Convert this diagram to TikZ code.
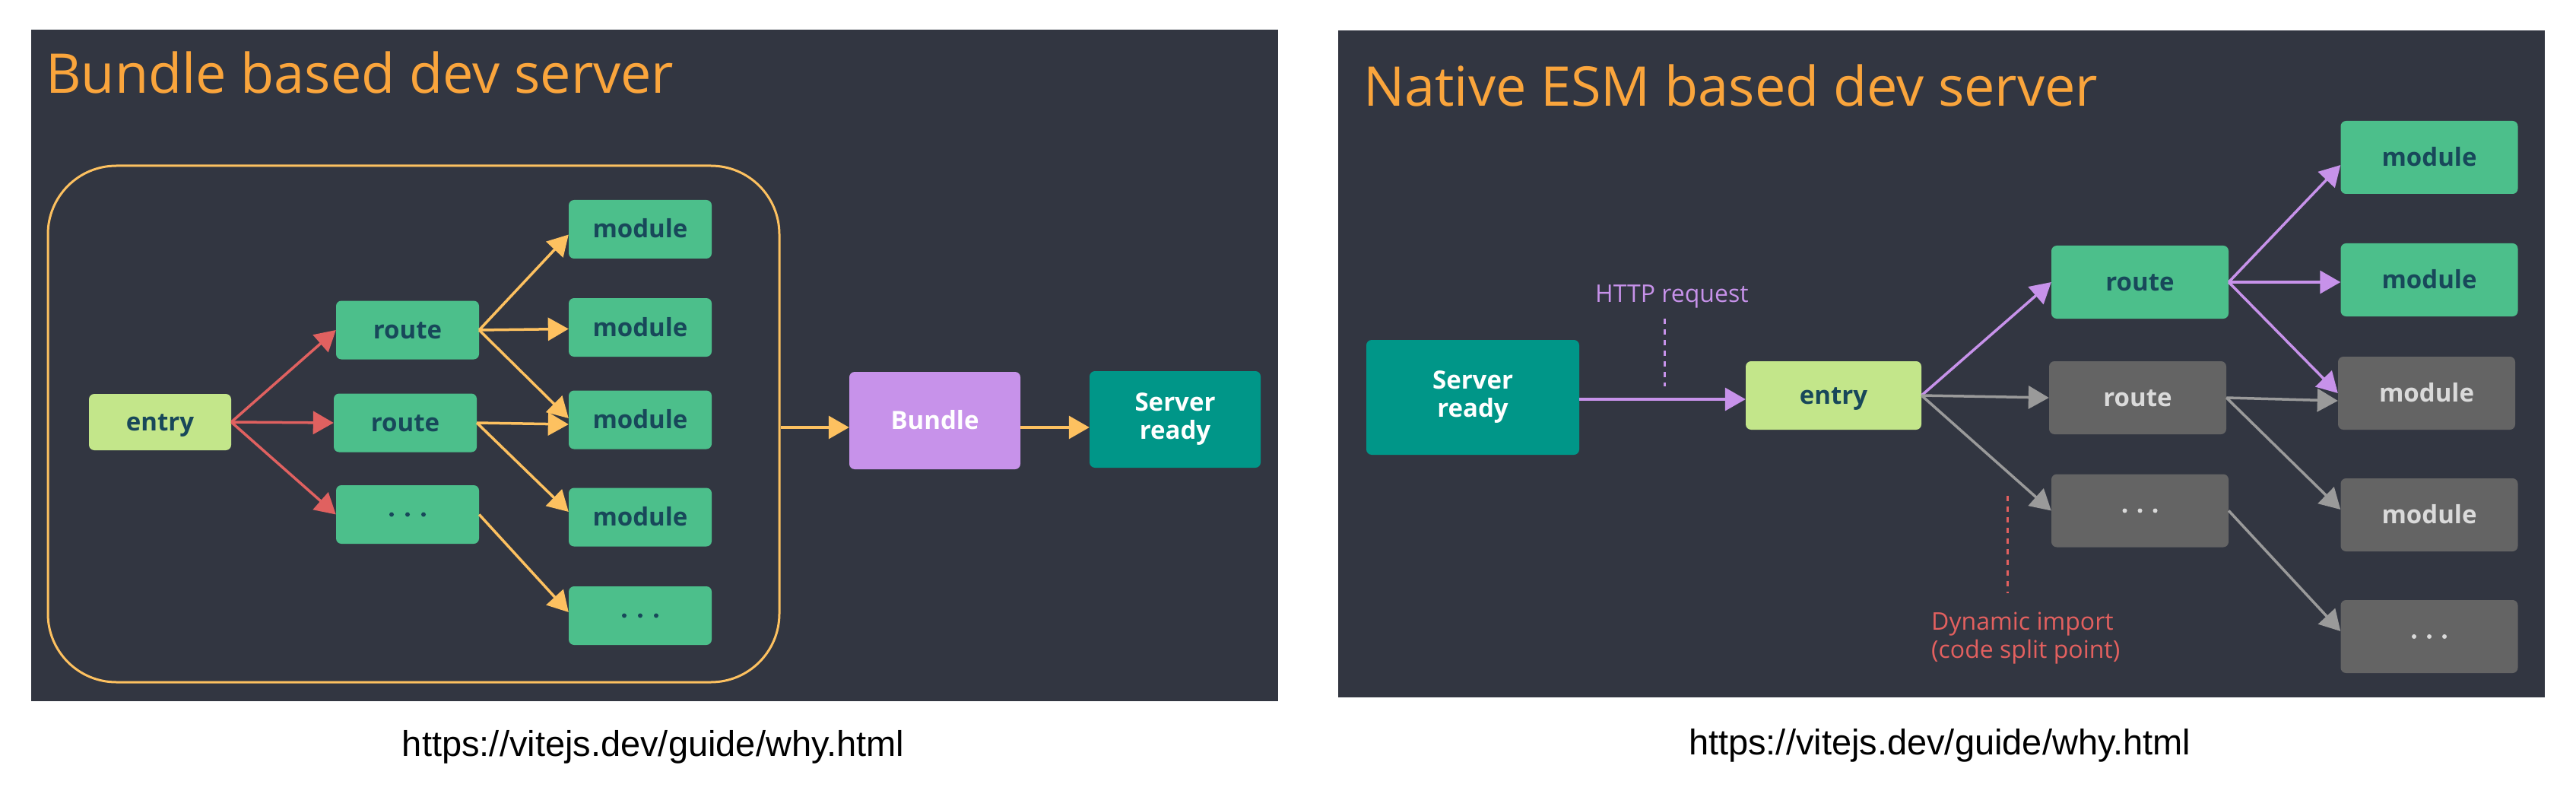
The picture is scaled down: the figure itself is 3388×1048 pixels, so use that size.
\documentclass[tikz,border=0pt]{standalone}
\usepackage{fontspec}
\setmainfont{Open Sans}
\newfontfamily\urlfont{Liberation Sans}
\usetikzlibrary{arrows.meta}
\definecolor{panelbg}{HTML}{323641}
\definecolor{titlec}{HTML}{FAA53C}
\definecolor{yel}{HTML}{FDC160}
\definecolor{redc}{HTML}{E06160}
\definecolor{purp}{HTML}{C792EA}
\definecolor{greyl}{HTML}{9A9A9A}
\definecolor{greenb}{HTML}{4CBF8B}
\definecolor{entryb}{HTML}{C3E68A}
\definecolor{darkt}{HTML}{18485A}
\definecolor{tealb}{HTML}{009688}
\definecolor{greyb}{HTML}{646464}
\definecolor{greyt}{HTML}{DADADA}
\definecolor{redt}{HTML}{E3605F}
\begin{document}
\begin{tikzpicture}[x=1pt,y=-1pt,
  box/.style={rounded corners=7pt, inner sep=0pt, font=\fontsize{33}{37}\selectfont\bfseries, text=darkt},
  lbl/.style={text height=23pt, text depth=0pt},
  lgbox/.style={box, fill=greenb, minimum width=188pt, minimum height=77pt},
  rgbox/.style={box, fill=greenb, minimum width=233pt, minimum height=96pt},
  gbox/.style={box, fill=greyb, text=greyt, minimum width=233pt, minimum height=96pt},
  arr/.style={line width=3.5pt, -{Triangle[length=27pt,width=30pt]}},
  title/.style={anchor=base west, inner sep=0pt, text=titlec, font=\fontsize{72}{86}\selectfont},
  urltext/.style={anchor=base, inner sep=0pt, text=black, font=\urlfont\fontsize{47}{56}\selectfont},
  note/.style={anchor=base west, inner sep=0pt, font=\fontsize{32}{37}\selectfont},
  dashmark/.style={line width=3pt, dash pattern=on 7pt off 7pt}
]
\useasboundingbox (0,0) rectangle (3388,1048);
\fill[white] (0,0) rectangle (3388,1048);
\fill[panelbg] (41,39) rectangle (1681,922);
\fill[panelbg] (1760,40) rectangle (3347,917);

% ---------------- left panel ----------------
\node[title] (tL) at (60,123) {Bundle based dev server};
\node[draw=yel, line width=3pt, rounded corners=90pt, minimum width=962pt, minimum height=679pt, inner sep=0pt] (cont) at (544,557.5) {};

\node[box, fill=entryb, minimum width=187pt, minimum height=74pt, lbl] (eL) at (210.5,555) {entry};
\node[lgbox, lbl] (r1L) at (536,434) {route};
\node[lgbox, lbl] (r2L) at (533,556) {route};
\node[lgbox] (dL) at (536,676.5) {};
\node[lgbox, lbl] (m1L) at (842,301.5) {module};
\node[lgbox, lbl] (m2L) at (842,430.5) {module};
\node[lgbox, lbl] (m3L) at (842,552) {module};
\node[lgbox, lbl] (m4L) at (842,680) {module};
\node[lgbox] (m5L) at (842,809.5) {};
\foreach \dx in {-21,0,21} {
  \fill[darkt] ([xshift=\dx pt]dL.center) circle (3pt);
  \fill[darkt] ([xshift=\dx pt]m5L.center) circle (3pt);
}
\node[box, fill=purp, text=white, minimum width=225pt, minimum height=128pt, lbl] (bun) at (1229.5,553) {Bundle};
\node[box, fill=tealb, text=white, minimum width=225pt, minimum height=127pt, align=center] (sL) at (1545.5,551.5) {Server\\ready};

\draw[arr, redc] (eL.east) -- (r1L.west);
\draw[arr, redc] (eL.east) -- (r2L.west);
\draw[arr, redc] (eL.east) -- (dL.west);
\draw[arr, yel] (r1L.east) -- ([yshift=-7pt]m1L.west);
\draw[arr, yel] (r1L.east) -- ([yshift=-2pt]m2L.west);
\draw[arr, yel] (r1L.east) -- ([yshift=2pt]m3L.west);
\draw[arr, yel] (r2L.east) -- ([yshift=-6pt]m3L.west);
\draw[arr, yel] (r2L.east) -- ([yshift=7pt]m4L.west);
\draw[arr, yel] (dL.east) -- ([yshift=4.5pt]m5L.west);
\coordinate (cout) at ([yshift=-4.5pt]cont.east);
\draw[arr, yel] (cout) -- (cout -| bun.west);
\draw[arr, yel] (cout -| bun.east) -- (cout -| sL.west);

\node[urltext] (uL) at (859,994) {https://vitejs.dev/guide/why.html};

% ---------------- right panel ----------------
\node[title] (tR) at (1793,140) {Native ESM based dev server};
\node[box, fill=tealb, text=white, minimum width=280pt, minimum height=151pt, align=center] (sR) at (1937,522.5) {Server\\ready};
\node[box, fill=entryb, minimum width=231pt, minimum height=90pt, lbl] (eR) at (2411.5,520) {entry};
\node[rgbox, lbl] (rgR) at (2814.5,371) {route};
\node[gbox, lbl] (ryR) at (2811.5,523) {route};
\node[gbox] (dR) at (2814.5,671.5) {};
\node[rgbox, lbl] (m1R) at (3195,207) {module};
\node[rgbox, lbl] (m2R) at (3195,368) {module};
\node[gbox, lbl] (m3R) at (3191.5,517) {module};
\node[gbox, lbl] (m4R) at (3195,677) {module};
\node[gbox] (m5R) at (3195,837) {};
\foreach \dx in {-20,0,20} {
  \fill[greyt] ([xshift=\dx pt]dR.center) circle (3pt);
  \fill[greyt] ([xshift=\dx pt]m5R.center) circle (3pt);
}

\coordinate (hq1) at (2189,419);
\coordinate (hq2) at (2189,508);
\draw[purp, dashmark] (hq1) -- (hq2);
\node[note, text=purp] (http) at (2098,397) {HTTP request};

\coordinate (dy1) at (2640,652);
\coordinate (dy2) at (2640,780);
\draw[redt, dashmark] (dy1) -- (dy2);
\node[note, text=redt] (dyn1) at (2540,828) {Dynamic import};
\node[note, text=redt] (dyn2) at (2540,865) {(code split point)};

\draw[arr, purp] ([yshift=-2.5pt]sR.east) -- ([yshift=-5pt]eR.west);
\draw[arr, purp] (eR.east) -- (rgR.west);
\draw[arr, greyl] (eR.east) -- (ryR.west);
\draw[arr, greyl] (eR.east) -- (dR.west);
\draw[arr, purp] (rgR.east) -- ([yshift=-10pt]m1R.west);
\draw[arr, purp] (rgR.east) -- ([yshift=-3pt]m2R.west);
\draw[arr, purp] (rgR.east) -- (m3R.west);
\draw[arr, greyl] (ryR.east) -- ([yshift=-10pt]m3R.west);
\draw[arr, greyl] (ryR.east) -- ([yshift=7pt]m4R.west);
\draw[arr, greyl] (dR.east) -- ([yshift=7pt]m5R.west);

\node[urltext] (uR) at (2551,992) {https://vitejs.dev/guide/why.html};
\end{tikzpicture}
\end{document}
